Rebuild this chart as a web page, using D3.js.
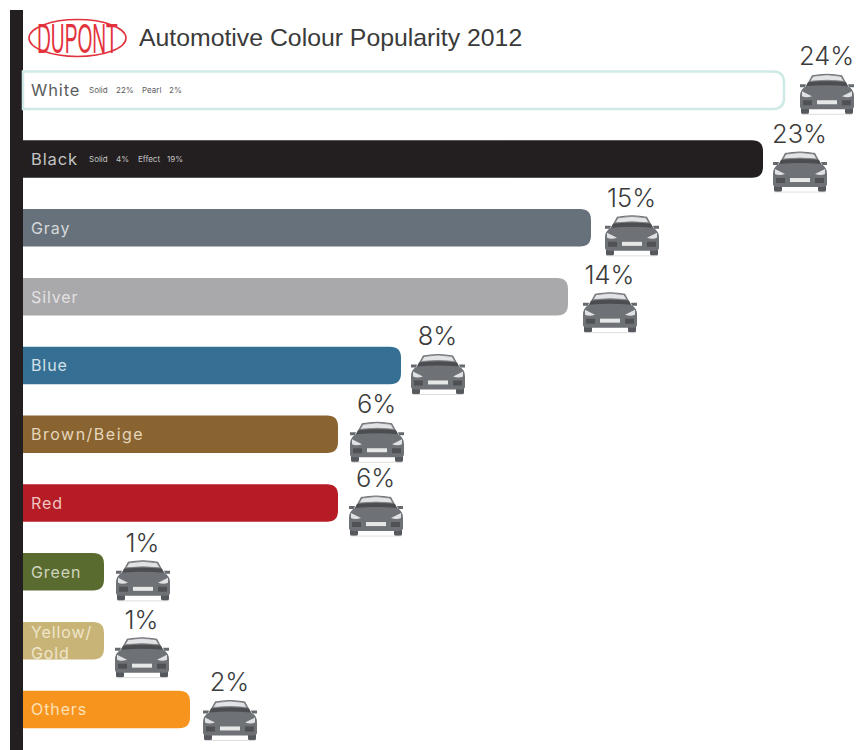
<!DOCTYPE html>
<html>
<head>
<meta charset="utf-8">
<script src="https://cdn.jsdelivr.net/npm/d3@7/dist/d3.min.js"></script>
<style>
  html, body { margin: 0; padding: 0; background: #fff; }
  svg { display: block; }
</style>
</head>
<body>
<div id="chart"></div>
<script>
// Automotive colour shares, 2012
const colours = ["White", "Black", "Gray", "Silver", "Blue", "Brown/Beige", "Red", "Green", "Yellow/Gold", "Others"];
const shares = [24, 23, 15, 14, 8, 6, 6, 1, 1, 2];
const fills = ["#ffffff", "#231f20", "#67717b", "#a9a9ab", "#356f93", "#8a6430", "#b51c25", "#5a6b30", "#c9b478", "#f7941e"];
const labelColours = ["#5d5d5d", "#c4c4c4", "#d5d8da", "#e2e2e2", "#d3e0e8", "#e5d6bd", "#f0c6c2", "#cfd5bd", "#efe6c9", "#fde0b4"];
const finishes = [["Solid", "22%", "Pearl", "2%"], ["Solid", "4%", "Effect", "19%"]];

// Hand-placed nudges for the car icons, relative to the end of each bar
const carDx = [43, 37, 41, 42, 37, 39, 38, 39, 38, 40];
const carDy = [4, 13, 8, 16, 9, 8, 13, 9, 17, 11];

const width = 856, height = 750;
const svg = d3.select("#chart").append("svg").attr("width", width).attr("height", height);
const defs = svg.append("defs");

// The bars follow a hand-drawn, non-proportional length for each share
const x = d3.scaleLinear()
  .domain([0, 1, 2, 6, 8, 14, 15, 23, 24])
  .range([23, 104, 190, 338, 401, 568, 591, 763, 784]);
const y = d3.scaleBand().domain(colours).range([71.5, 728.2]).paddingInner(0.455).paddingOuter(0);

// Reusable car, drawn around its own centre
const car = defs.append("g").attr("id", "car");
car.append("path").attr("fill", "#55585c") // wheels
  .attr("d", "M-26 9h8v10q0 2-2 2h-4q-2 0-2-2zM18 9h8v10q0 2-2 2h-4q-2 0-2-2z");
car.append("path").attr("fill", "#6e7175") // body
  .attr("d", "M-15-18Q0-21 15-18L21-7Q27-4 27 3V13Q27 16 23 16H-23Q-27 16-27 13V3Q-27-4-21-7Z");
car.append("path").attr("fill", "#66696d") // mirrors
  .attr("d", "M-27-9h6l-1 3h-5zM21-9h6v3h-5z");
car.append("path").attr("fill", "#e2e3e5").attr("stroke", "#7c7f83").attr("stroke-width", 0.8) // windscreen
  .attr("d", "M-14-17Q0-20 14-17L17-12Q0-14-17-12Z");
car.append("path").attr("fill", "#4b4d51") // scuttle
  .attr("d", "M-19-11Q0-13 19-11L21-7Q0-9-21-7Z");
car.append("path").attr("fill", "#dfe1e3") // headlights
  .attr("d", "M-25-2L-15 3Q-21 5-25 3ZM25-2L15 3Q21 5 25 3Z");
car.append("rect").attr("x", -10).attr("y", 7).attr("width", 20).attr("height", 4).attr("fill", "#e6e7e7"); // plate
car.append("path").attr("fill", "#4f5155").attr("d", "M-24 7h9v5h-9zM15 7h9v5h-9z"); // lower intakes
car.append("rect").attr("x", -25).attr("y", 20.5).attr("width", 50).attr("height", 1).attr("fill", "#dddddd"); // ground shadow

// Spine on the left edge
svg.append("rect").attr("x", 10).attr("y", 10).attr("width", 13).attr("height", 740).attr("fill", "#231f20");

// Maker's oval and heading
const logo = svg.append("g");
logo.append("ellipse").attr("cx", 77.5).attr("cy", 38).attr("rx", 48.5).attr("ry", 18.5)
  .attr("fill", "none").attr("stroke", "#e2323c").attr("stroke-width", 1.6);
logo.append("text").text("DUPONT")
  .attr("transform", "translate(37,53) scale(0.445,1)")
  .attr("font-family", "'Liberation Sans', sans-serif")
  .attr("font-size", 43).attr("fill", "#e2323c");

svg.append("text").text("Automotive Colour Popularity 2012")
  .attr("x", 139).attr("y", 46)
  .attr("font-family", "'Liberation Sans', sans-serif")
  .attr("font-size", 24.8).attr("fill", "#3a3a3a");

const rows = svg.selectAll("g.row").data(colours).join("g").attr("class", "row");

// Bars run out of the spine: square on the left, rounded on the right
function barPath(i) {
  const r = 11, x1 = x(shares[i]), t = y(colours[i]), b = t + y.bandwidth();
  return `M23 ${t}H${x1 - r}Q${x1} ${t} ${x1} ${t + r}V${b - r}Q${x1} ${b} ${x1 - r} ${b}H23Z`;
}
rows.append("path")
  .attr("d", (d, i) => barPath(i))
  .attr("fill", (d, i) => fills[i])
  .attr("stroke", (d, i) => i === 0 ? "#cfeae6" : "none")
  .attr("stroke-width", 2.5);

const labelFont = "Inter, 'Open Sans', sans-serif";
rows.each(function (d, i) {
  const row = d3.select(this);
  const mid = y(d) + y.bandwidth() / 2;
  const lines = d === "Yellow/Gold" ? ["Yellow/", "Gold"] : [d];
  lines.forEach((line, k) => {
    row.append("text").text(line)
      .attr("x", 31)
      .attr("y", mid + 6 + (lines.length > 1 ? (k === 0 ? -9 : 12) : 0))
      .attr("font-family", labelFont)
      .attr("font-size", i < 2 ? 16.5 : 16)
      .attr("letter-spacing", d === "Brown/Beige" ? 1.5 : 0.9)
      .attr("fill", labelColours[i]);
  });
  if (finishes[i]) {
    const parts = finishes[i];
    const offsets = i === 0 ? [89, 116, 142, 169] : [89, 116, 138, 167];
    parts.forEach((p, k) => {
      row.append("text").text(p)
        .attr("x", offsets[k]).attr("y", mid + 3)
        .attr("font-family", labelFont).attr("font-size", 8)
        .attr("fill", labelColours[i]);
    });
  }

  const cx = x(shares[i]) + carDx[i];
  const cy = mid + carDy[i];
  row.append("use").attr("href", "#car").attr("x", cx).attr("y", cy - 1);
  row.append("text").text(shares[i] + "%")
    .attr("x", cx - 0.5).attr("y", cy - 29)
    .attr("text-anchor", "middle")
    .attr("font-family", labelFont)
    .attr("font-weight", 300)
    .attr("font-size", 25.5)
    .attr("fill", "#3c3c3c");
});
</script>
</body>
</html>
